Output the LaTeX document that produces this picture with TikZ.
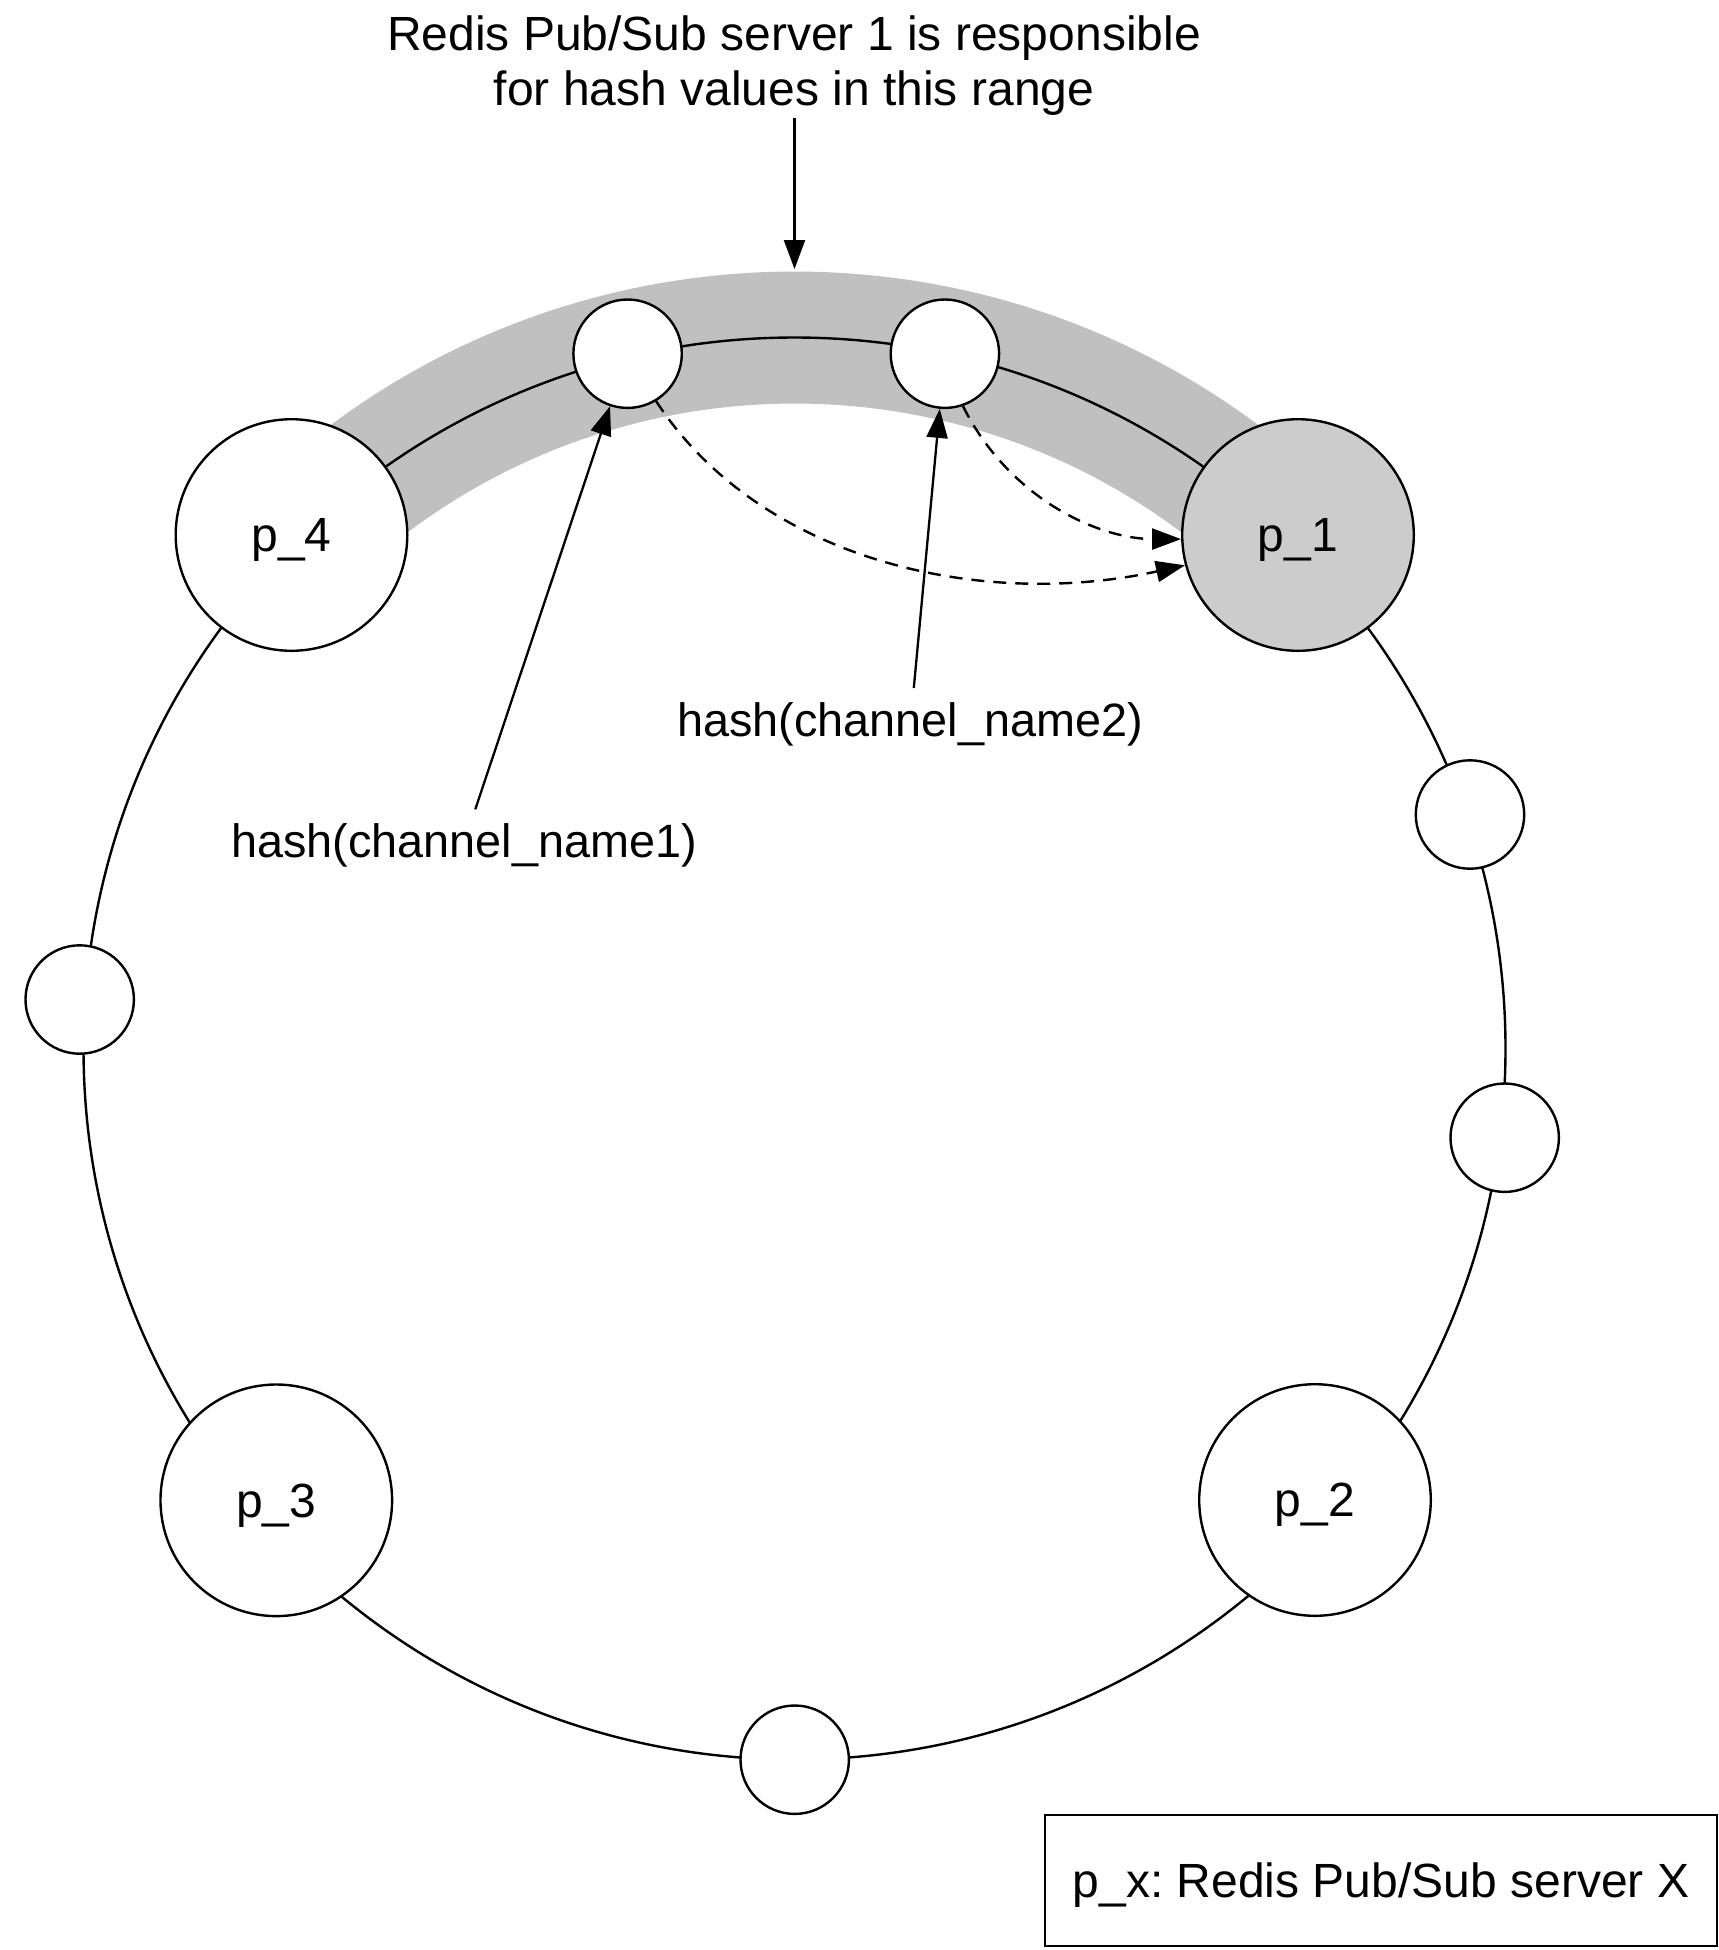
\documentclass[tikz,border=0pt]{standalone}
\usepackage{fontspec}
\setmainfont{Liberation Sans}
\frenchspacing
\usetikzlibrary{arrows.meta}
\definecolor{bandgray}{HTML}{C0C0C0}
\definecolor{srvgray}{HTML}{CCCCCC}
\begin{document}
\begin{tikzpicture}[x=0.5pt,y=0.5pt,
  bigsrv/.style={circle, draw, line width=1.2pt, fill=white, minimum size=115.8pt, inner sep=0pt, text depth=0pt, font=\fontsize{24}{28}\selectfont},
  smallnode/.style={circle, draw, line width=1.2pt, fill=white, minimum size=54.2pt, inner sep=0pt},
  ringline/.style={line width=1.2pt},
  lbl/.style={font=\fontsize{24}{27.5}\selectfont, inner sep=0pt},
  hlbl/.style={font=\fontsize{23.4}{27}\selectfont, inner sep=0pt},
  ptr/.style={line width=1.15pt, -{Triangle[length=14.5pt,width=10.5pt]}},
  dptr/.style={ptr, line width=1.2pt, dash pattern=on 6.5pt off 4.5pt},
]
\useasboundingbox (0,0) rectangle (1719,-1950);
\fill[white] (0,0) rectangle (1719,-1950);
\coordinate (rc) at (794.5,-1048.5);
% highlighted range of server 1
\draw[bandgray, line width=66pt] (rc) ++(134.4:355.5pt) arc[start angle=134.4, end angle=45.6, radius=355.5pt];
% hash ring
\draw[ringline] (rc) circle[radius=355.5pt];
% servers and ring points
\node[bigsrv, fill=srvgray] (p1) at (1298,-535) {p\_1};
\node[bigsrv] (p4) at (291.5,-535) {p\_4};
\node[bigsrv] (p3) at (276.3,-1500.3) {p\_3};
\node[bigsrv] (p2) at (1315,-1500) {p\_2};
\node[smallnode] (n1) at (627.6,-353.7) {};
\node[smallnode] (n2) at (944.9,-353.7) {};
\node[smallnode] (r1) at (1470,-814.5) {};
\node[smallnode] (r2) at (1504.7,-1137.7) {};
\node[smallnode] (bt) at (794.7,-1759.7) {};
\node[smallnode] (lf) at (79.7,-999.5) {};
% title and its pointer
\node[lbl, align=center] (title) at (794,-65.5) {Redis Pub/Sub server 1 is responsible\\for hash values in this range};
\coordinate (ta1) at (794.5,-118);
\coordinate (ta2) at (794.5,-269);
\draw[ptr] (ta1) -- (ta2);
% hash labels
\node[hlbl, anchor=base] (h1) at (464,-857) {hash(channel\_name1)};
\node[hlbl, anchor=base] (h2) at (910,-736) {hash(channel\_name2)};
\coordinate (h1s) at (475.3,-809.3);
\coordinate (h2s) at (913.8,-688);
\draw[ptr] (h1s) -- (n1);
\draw[ptr] (h2s) -- (n2);
% mapping to server 1
\draw[dptr] (n1.-59) .. controls (760,-560) and (980,-610) .. (p1.195);
\draw[dptr] (n2.-71) .. controls (1010,-500) and (1100,-539) .. (p1.182);
% legend
\node[draw, line width=1.2pt, minimum width=336pt, minimum height=65.5pt, inner sep=0pt, text depth=0pt, font=\fontsize{24}{28}\selectfont] (legend) at (1381,-1880.5) {p\_x: Redis Pub/Sub server X};
\end{tikzpicture}
\end{document}
